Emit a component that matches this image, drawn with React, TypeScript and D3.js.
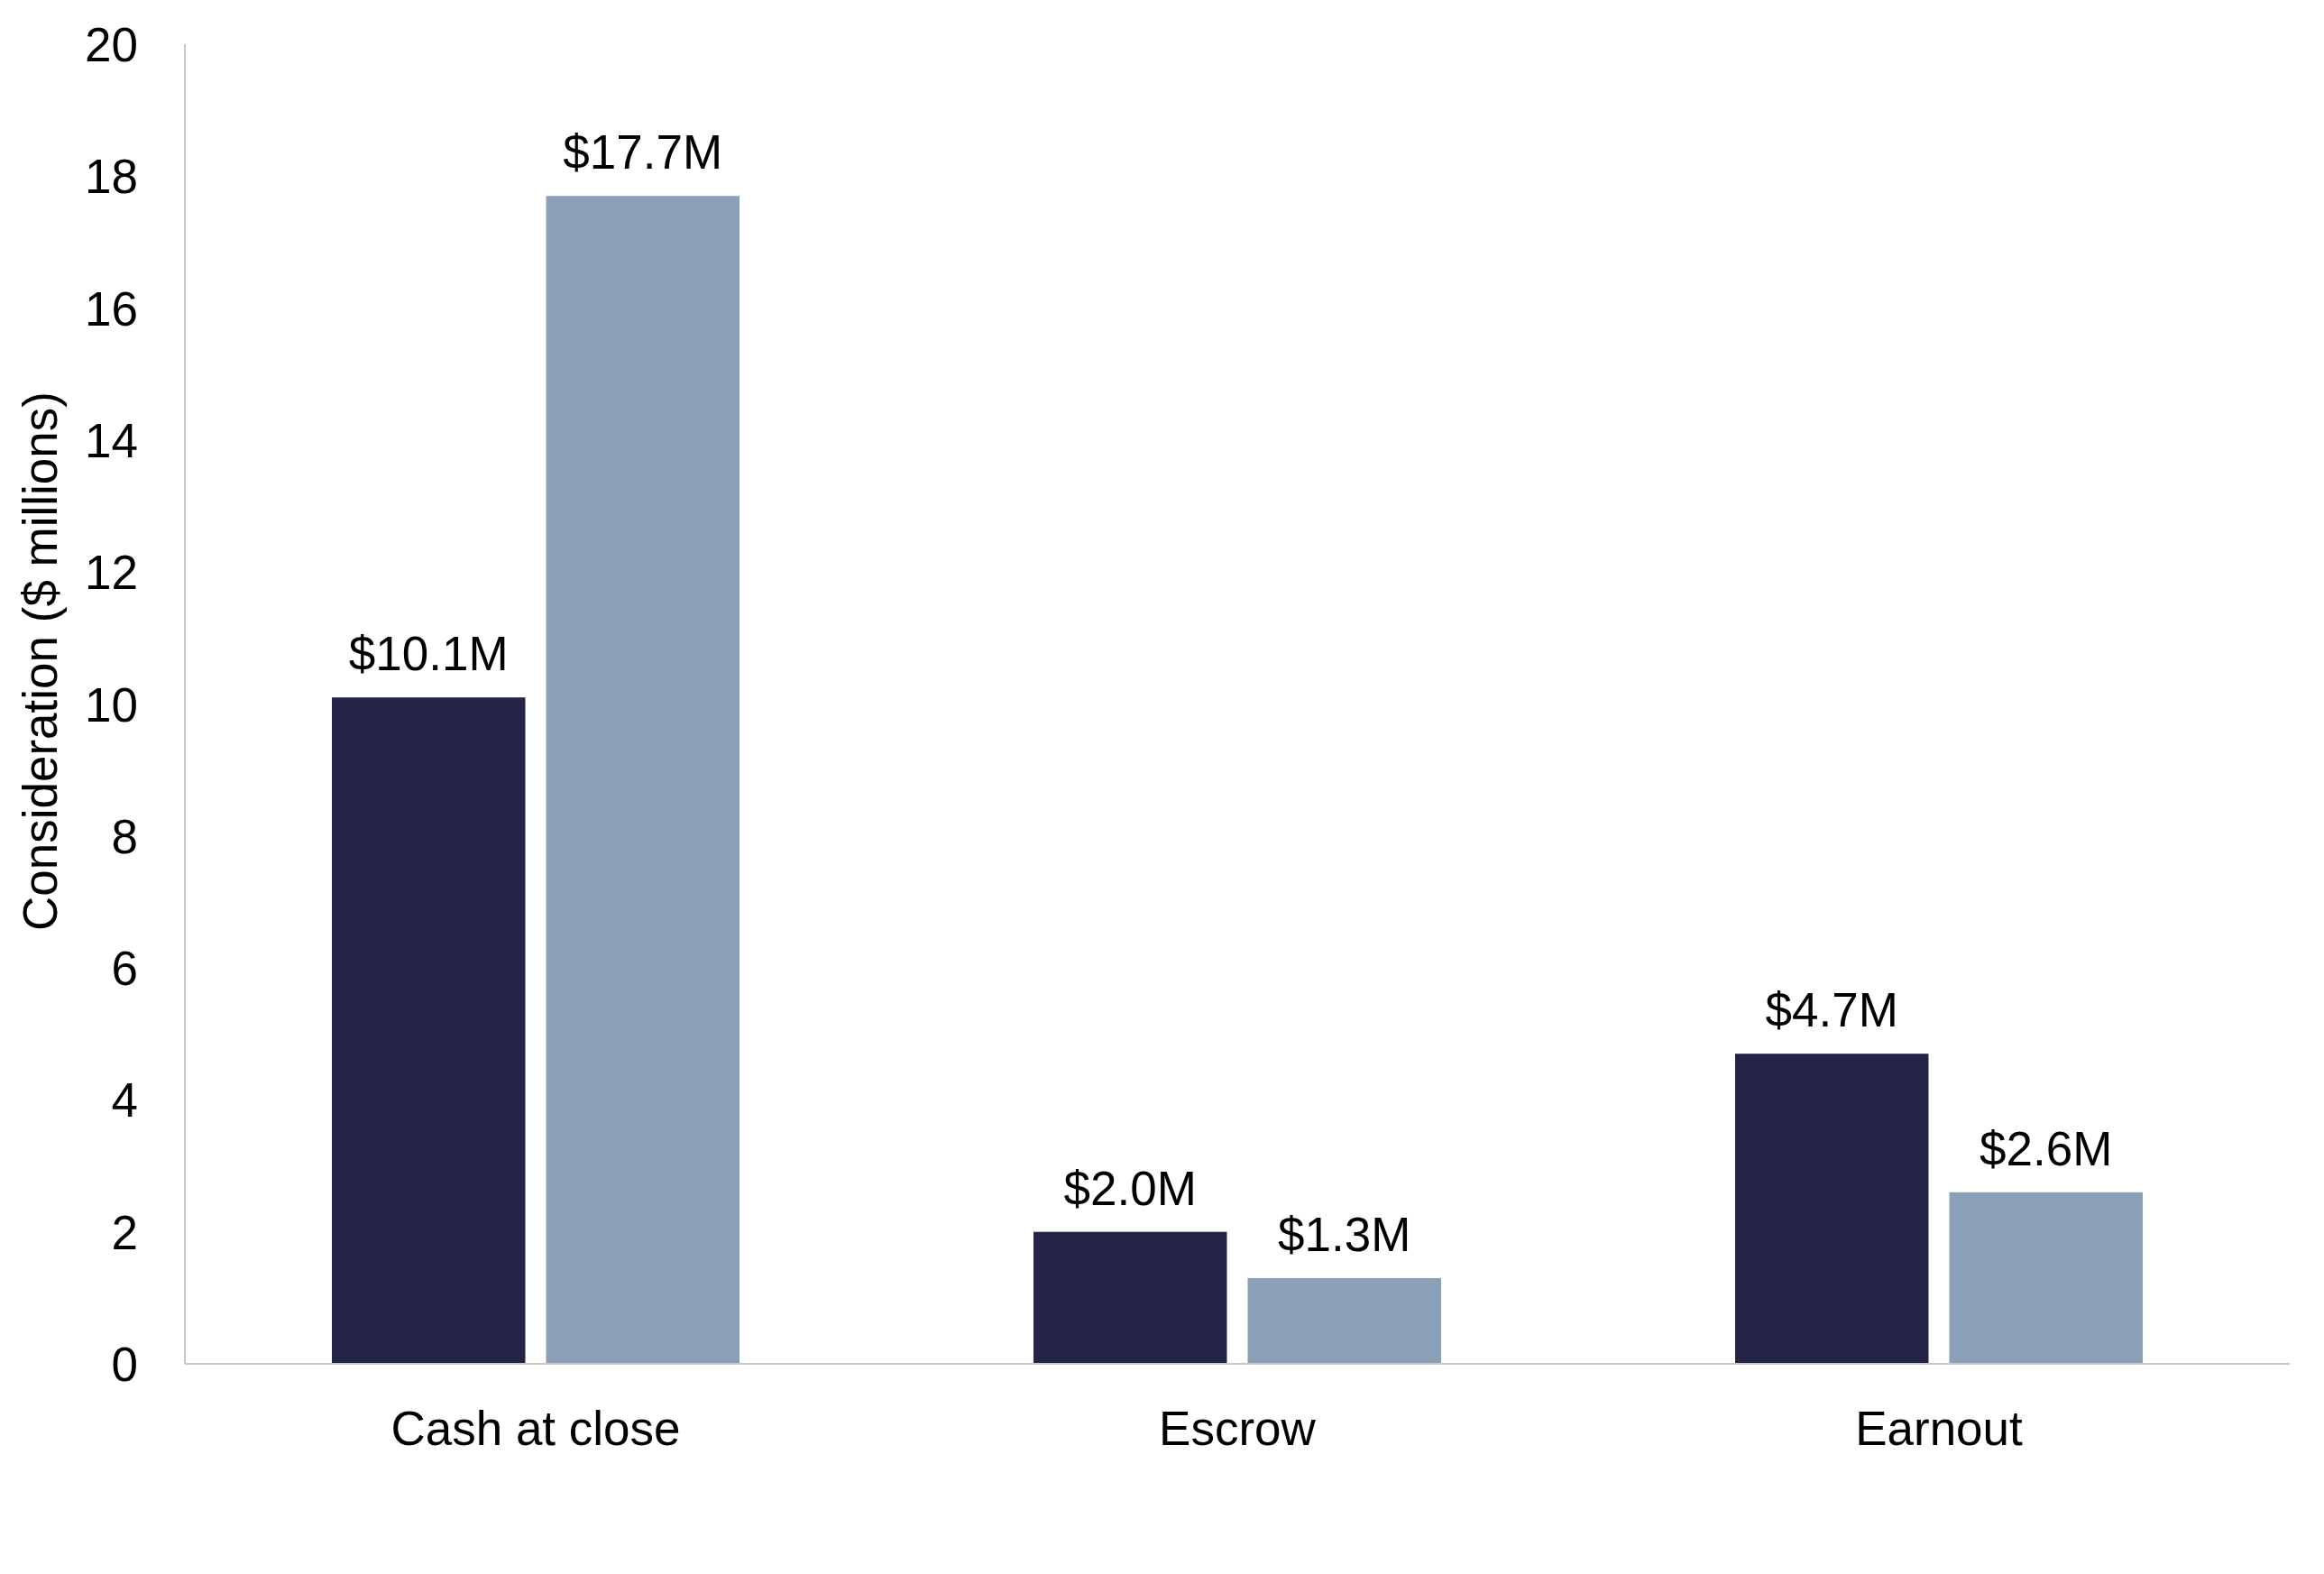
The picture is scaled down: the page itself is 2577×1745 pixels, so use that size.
import { useEffect } from "react";
import * as d3 from "d3";

const categories = ["Cash at close", "Escrow", "Earnout"];
const seriesNames = ["Series 1", "Series 2"];
const series1 = [10.1, 2.0, 4.7];
const series2 = [17.7, 1.3, 2.6];
const yTicks = [0, 2, 4, 6, 8, 10, 12, 14, 16, 18, 20];
const colors = ["#232446", "#8AA0B8"];

const W = 2577;
const H = 1745;
const margin = { top: 49, right: 38, bottom: 233, left: 205 };
const font = "'Liberation Sans', Arial, sans-serif";
const fs = 53;

const App = () => {
  useEffect(() => {
    document.body.style.margin = "0";
  }, []);

  const innerW = W - margin.left - margin.right;
  const innerH = H - margin.top - margin.bottom;

  const x0 = d3.scaleBand().domain(categories).range([0, innerW]);
  const groupPad = 163;
  const x1 = d3
    .scaleBand()
    .domain(seriesNames)
    .range([groupPad, x0.bandwidth() - groupPad])
    .paddingInner(0.097);
  const y = d3.scaleLinear().domain([0, 20]).range([innerH, 0]);

  const rows = categories.map((c, i) => ({
    category: c,
    values: [series1[i], series2[i]],
  }));

  return (
    <svg width={W} height={H} style={{ display: "block", background: "#fff" }}>
      <g transform={`translate(${margin.left},${margin.top})`}>
        {rows.map((r) => (
          <g key={r.category} transform={`translate(${x0(r.category)},0)`}>
            {r.values.map((v, j) => (
              <g key={j}>
                <rect
                  x={x1(seriesNames[j])}
                  y={y(v)}
                  width={x1.bandwidth()}
                  height={innerH - y(v)}
                  fill={colors[j]}
                />
                <text
                  x={x1(seriesNames[j])! + x1.bandwidth() / 2}
                  y={y(v) - 30}
                  textAnchor="middle"
                  fontFamily={font}
                  fontSize={fs}
                  fill="#000"
                >
                  {`$${v.toFixed(1)}M`}
                </text>
              </g>
            ))}
            <text
              x={x0.bandwidth() / 2}
              y={innerH + 90}
              textAnchor="middle"
              fontFamily={font}
              fontSize={fs}
              fill="#000"
            >
              {r.category}
            </text>
          </g>
        ))}
        <line x1={0} x2={0} y1={0} y2={innerH} stroke="#C8C8C8" strokeWidth={2} />
        <line x1={0} x2={innerW} y1={innerH} y2={innerH} stroke="#C8C8C8" strokeWidth={2} />
        {yTicks.map((t) => (
          <text
            key={t}
            x={-52}
            y={y(t)}
            dy="0.36em"
            textAnchor="end"
            fontFamily={font}
            fontSize={fs}
            fill="#000"
          >
            {t}
          </text>
        ))}
      </g>
      <text
        transform={`translate(44,733) rotate(-90)`}
        textAnchor="middle"
        dy="0.36em"
        fontFamily={font}
        fontSize={fs}
        fill="#000"
      >
        Consideration ($ millions)
      </text>
    </svg>
  );
};

export default App;
